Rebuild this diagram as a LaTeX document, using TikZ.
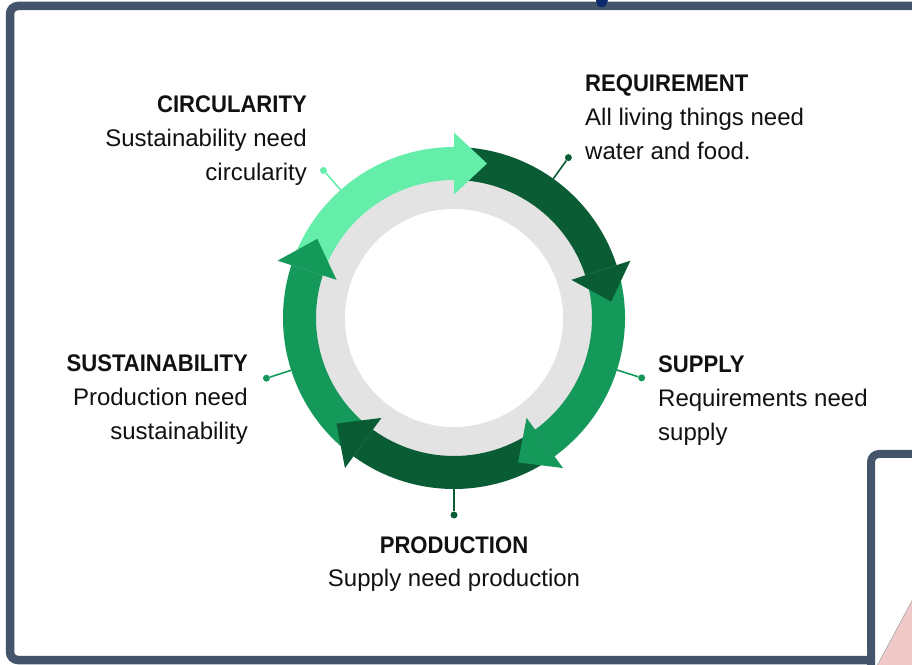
\documentclass[tikz,border=0pt]{standalone}
\usepackage{fontspec}
\setmainfont{Liberation Sans}
\newfontfamily\headfont[FakeStretch=0.92]{Liberation Sans}
\usetikzlibrary{calc}
\definecolor{frame}{HTML}{44546A}
\definecolor{lightg}{HTML}{64EEA9}
\definecolor{darkg}{HTML}{0A5C35}
\definecolor{midg}{HTML}{14995A}
\definecolor{ringgray}{HTML}{E3E3E3}
\definecolor{navy}{HTML}{0B2A6E}
\definecolor{pinkt}{HTML}{F2C9C9}
\definecolor{txt}{HTML}{111111}
\begin{document}
\begin{tikzpicture}[x=1pt,y=1pt,
  head/.style={font=\headfont\bfseries\fontsize{24}{34}\selectfont, inner sep=0, text=txt},
  body/.style={font=\fontsize{24}{34}\selectfont, inner sep=0, text=txt},
  dot/.style={circle, inner sep=0, minimum size=7},
  leader/.style={line width=1.6}]
\useasboundingbox (0,0) rectangle (912,664);
\clip (0,0) rectangle (912,664);
\fill[white] (0,0) rectangle (912,664);
% main frame
\draw[frame, line width=8.5, rounded corners=8] (10,4) rectangle (1000,658);
\fill[navy] (596,664) -- (608,664) -- (606,659) .. controls (605,656) and (599,656) .. (597,659) -- cycle;
% ring
\coordinate (c) at (454,346);
\fill[ringgray] (c) circle[radius=160];
\fill[white] (c) circle[radius=109];
% arrow bodies
\foreach \h/\col in {90/lightg, 18/darkg, -54/midg, -126/darkg, -198/midg} {
  \pgfmathsetmacro\s{\h+72}
  \fill[\col] ($(c)+(\s:138)$) arc[start angle=\s, end angle=\h, radius=138]
    -- ($(c)+(\h:171)$) arc[start angle=\h, end angle=\s, radius=171] -- cycle;
}
% arrow heads
\foreach \h/\col in {90/lightg, 18/darkg, -54/midg, -126/darkg, -198/midg} {
  \pgfmathsetmacro\t{\h-90}
  \fill[\col] ($(c)+(\h:123.5)$) -- ($(c)+(\h:185.5)$) -- ($(c)+(\h:154.5)+(\t:33)$) -- cycle;
}
% leaders
\foreach \a/\col/\n in {54.5/darkg/req, -17.7/midg/sup, -90/darkg/pro, 197.8/midg/sus, 131.5/lightg/cir} {
  \coordinate (r-\n) at ($(c)+(\a:171)$);
  \node[dot, fill=\col] (d-\n) at ($(c)+(\a:197)$) {};
  \draw[leader, \col] (r-\n) -- (d-\n);
}
% labels
\node[head, anchor=base east] (cir-h) at (307,551) {CIRCULARITY};
\node[body, anchor=base east] (cir-1) at (307,517) {Sustainability need};
\node[body, anchor=base east] (cir-2) at (307,483) {circularity};
\node[head, anchor=base west] (req-h) at (585,572) {REQUIREMENT};
\node[body, anchor=base west] (req-1) at (585,538) {All living things need};
\node[body, anchor=base west] (req-2) at (585,504) {water and food.};
\node[head, anchor=base west] (sup-h) at (658,291) {SUPPLY};
\node[body, anchor=base west] (sup-1) at (658,257) {Requirements need};
\node[body, anchor=base west] (sup-2) at (658,223) {supply};
\node[head, anchor=base east] (sus-h) at (248,292) {SUSTAINABILITY};
\node[body, anchor=base east] (sus-1) at (248,258) {Production need};
\node[body, anchor=base east] (sus-2) at (248,224) {sustainability};
\node[head, anchor=base] (pro-h) at (454,111) {PRODUCTION};
\node[body, anchor=base] (pro-1) at (454,78) {Supply need production};
% second box
\draw[frame, line width=8, rounded corners=8, fill=white] (871,210) rectangle (1000,-50);
\filldraw[fill=pinkt, draw=gray!70, line width=0.6] (877,-2) -- (930,97) -- (930,-2) -- cycle;
\end{tikzpicture}
\end{document}
